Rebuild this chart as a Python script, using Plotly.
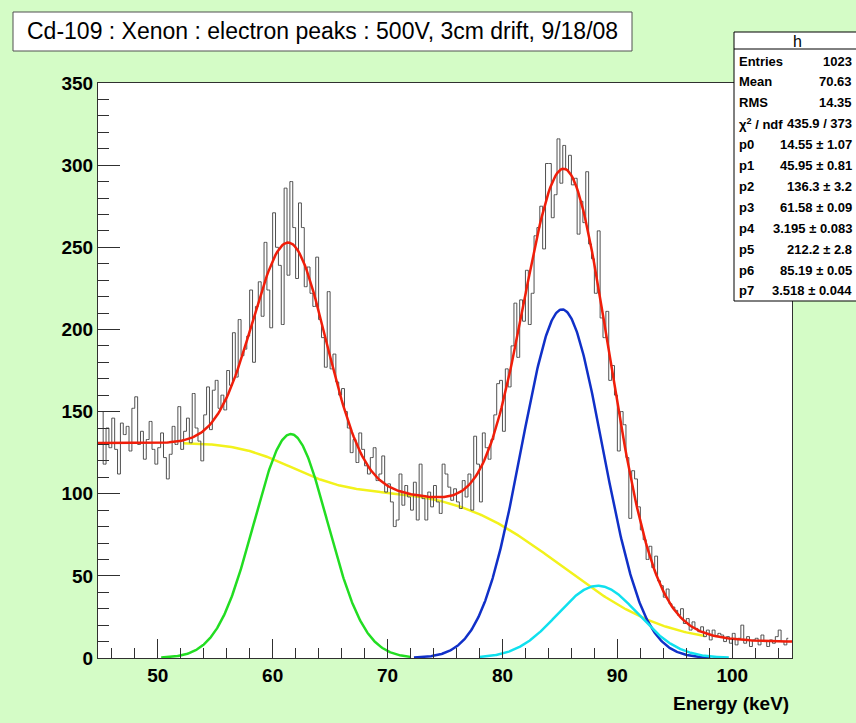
import math
import numpy as np
import plotly.graph_objects as go

# ---------------- data ----------------
bin_low_edge = 45.0
bin_width = 0.25
counts = [
    150, 118, 140, 128,   # 45
    146, 127, 112, 143,   # 46
    136, 141, 126, 152,   # 47
    159, 130, 138, 121,   # 48
    133, 144, 127, 118,   # 49
    128, 137, 122, 109,   # 50
    124, 141, 130, 153,   # 51
    127, 138, 146, 131,   # 52
    161, 140, 132, 120,   # 53
    148, 165, 139, 163,   # 54
    169, 152, 160, 151,   # 55
    175, 166, 198, 171,   # 56
    206, 184, 188, 196,   # 57
    224, 180, 214, 229,   # 58
    208, 253, 224, 201,   # 59
    271, 250, 239, 203,   # 60
    286, 233, 290, 262,   # 61
    231, 277, 262, 226,   # 62
    238, 222, 214, 244,   # 63
    206, 195, 177, 223,   # 64
    176, 185, 168, 160,   # 65
    164, 150, 140, 125,   # 66
    133, 119, 137, 127,   # 67
    117, 112, 122, 128,   # 68
    108, 112, 123, 101,   # 69
    106, 95, 80, 84,      # 70
    112, 93, 105, 98,     # 71
    90, 107, 84, 118,     # 72
    97, 84, 101, 92,      # 73
    105, 95, 88, 118,     # 74
    112, 104, 96, 103,    # 75
    95, 91, 108, 98,      # 76
    112, 90, 135, 118,    # 77
    95, 137, 128, 121,    # 78
    133, 148, 167, 169,   # 79
    138, 176, 165, 190,   # 80
    216, 183, 218, 205,   # 81
    236, 203, 222, 257,   # 82
    262, 275, 249, 301,   # 83
    301, 268, 282, 316,   # 84
    289, 312, 297, 306,   # 85
    288, 292, 258, 278,   # 86
    265, 296, 252, 243,   # 87
    222, 260, 207, 195,   # 88
    211, 169, 178, 160,   # 89
    126, 150, 142, 122,   # 90
    85, 114, 109, 92,     # 91
    78, 72, 60, 68,       # 92
    55, 62, 47, 44,       # 93
    37, 42, 33, 31,       # 94
    29, 26, 30, 21,       # 95
    24, 17, 22, 18,       # 96
    16, 19, 13, 17,       # 97
    11, 17, 13, 15,       # 98
    14, 10, 13, 9,        # 99
    15, 8, 12, 20,        # 100
    9, 13, 7, 11,         # 101
    12, 8, 14, 10,        # 102
    7, 11, 9, 13,         # 103
    17, 10, 8, 12,        # 104
]

# fit parameters shown in the stats box
par_names = ["p0", "p1", "p2", "p3", "p4", "p5", "p6", "p7"]
par_values = [14.55, 45.95, 136.3, 61.58, 3.195, 212.2, 85.19, 3.518]
par_errors = ["1.07", "0.81", "3.2", "0.09", "0.083", "2.8", "0.05", "0.044"]
par_text = ["14.55", "45.95", "136.3", "61.58", "3.195", "212.2", "85.19", "3.518"]

stat_labels = ["Entries", "Mean", "RMS", "χ<sup>2</sup> / ndf"]
stat_values = ["1023", "70.63", "14.35", "435.9 / 373"]

# extra curve constants
bkg_level = 9.8
step_width_1 = 5.2
step_width_2 = 10.0
cyan_mean = 88.3
cyan_amp = 44.0

green_range = [50.3, 72.0]
blue_range = [72.3, 98.1]
cyan_range = [78.0, 99.7]
yellow_range = [52.2, 97.6]
red_range = [44.8, 105.2]

x_range = [44.8, 105.2]
y_range = [0, 350]
title_text = "Cd-109 : Xenon : electron peaks : 500V, 3cm drift, 9/18/08"
x_title = "Energy (keV)"

# ---------------- model curves ----------------
p0, p1, p2, p3, p4, p5, p6, p7 = par_values


def gaus(x, a, m, s):
    return a * np.exp(-((x - m) ** 2) / (2 * s * s))


def background(x):
    e1 = np.array([math.erfc(v) for v in (x - p3) / step_width_1])
    e2 = np.array([math.erfc(v) for v in (x - p6) / step_width_2])
    return bkg_level + p0 * e1 + p1 * e2


def green(x):
    return gaus(x, p2, p3, p4)


def blue(x):
    return gaus(x, p5, p6, p7)


def cyan(x):
    return gaus(x, cyan_amp, cyan_mean, p7)


def total(x):
    return background(x) + green(x) + blue(x) + cyan(x)


def grid(r):
    return np.linspace(r[0], r[1], 400)


# ---------------- figure ----------------
W, H = 856, 723
L, R, T, B = 98, 792, 83, 658


def px(xp):
    return (xp - L) / (R - L)


def py(yp):
    return (B - yp) / (B - T)


FONT = "Liberation Sans, Arial, Helvetica, sans-serif"

fig = go.Figure()

curves = [
    (yellow_range, background, "#f2f21c"),
    (green_range, green, "#22dd22"),
    (blue_range, blue, "#1030c8"),
    (cyan_range, cyan, "#10e0ee"),
]
for r, f, c in curves:
    xs = grid(r)
    fig.add_trace(go.Scatter(x=xs, y=f(xs), mode="lines",
                             line=dict(color=c, width=2.5),
                             hoverinfo="skip", showlegend=False))

centers = [bin_low_edge + bin_width * (i + 0.5) for i in range(len(counts))]
fig.add_trace(go.Scatter(x=centers, y=counts, mode="lines",
                         line=dict(color="#505050", width=1, shape="hvh"),
                         showlegend=False))

xs = grid(red_range)
fig.add_trace(go.Scatter(x=xs, y=total(xs), mode="lines",
                         line=dict(color="#f01e0a", width=2.5),
                         hoverinfo="skip", showlegend=False))

axis_common = dict(showgrid=False, zeroline=False, showline=True, mirror=True,
                   linecolor="#303030", linewidth=1, ticks="inside",
                   tickcolor="#303030", tickwidth=1,
                   tickfont=dict(family=FONT, size=19, color="black", weight="bold"))

fig.update_xaxes(range=x_range, tick0=0, dtick=10, ticklen=19,
                 minor=dict(ticks="inside", dtick=2, ticklen=10, tickcolor="#303030"),
                 **axis_common)
fig.update_yaxes(range=y_range, tick0=0, dtick=50, ticklen=22,
                 minor=dict(ticks="inside", dtick=10, ticklen=11, tickcolor="#303030"),
                 **axis_common)

shapes = []
annotations = []

# title box
shapes.append(dict(type="rect", xref="paper", yref="paper",
                   x0=px(13), x1=px(632), y0=py(51), y1=py(12),
                   line=dict(color="#505050", width=1), fillcolor="white", layer="above"))
annotations.append(dict(xref="paper", yref="paper", x=px(322.5), y=py(31.5),
                        text=title_text, showarrow=False, xanchor="center", yanchor="middle",
                        font=dict(family=FONT, size=23, color="black")))

# stats box
shapes.append(dict(type="rect", xref="paper", yref="paper",
                   x0=px(734), x1=px(870), y0=py(301), y1=py(32),
                   line=dict(color="black", width=1), fillcolor="white", layer="above"))
shapes.append(dict(type="line", xref="paper", yref="paper",
                   x0=px(734), x1=px(870), y0=py(49), y1=py(49),
                   line=dict(color="black", width=1), layer="above"))
annotations.append(dict(xref="paper", yref="paper", x=px(797), y=py(41),
                        text="h", showarrow=False, xanchor="center", yanchor="middle",
                        font=dict(family=FONT, size=16, color="black")))

row_labels = stat_labels + par_names
row_values = stat_values + [f"{v} ± {e}" for v, e in zip(par_text, par_errors)]
for i, (lab, val) in enumerate(zip(row_labels, row_values)):
    yy = 61 + 20.9 * i
    annotations.append(dict(xref="paper", yref="paper", x=px(737), y=py(yy),
                            text=lab, showarrow=False, xanchor="left", yanchor="middle",
                            font=dict(family=FONT, size=13, color="black", weight="bold")))
    annotations.append(dict(xref="paper", yref="paper", x=px(854), y=py(yy),
                            text=val, showarrow=False, xanchor="right", yanchor="middle",
                            font=dict(family=FONT, size=13, color="black", weight="bold")))

# x axis title
annotations.append(dict(xref="paper", yref="paper", x=px(791), y=py(703),
                        text=x_title, showarrow=False, xanchor="right", yanchor="middle",
                        font=dict(family=FONT, size=19, color="black", weight="bold")))

fig.update_layout(width=W, height=H,
                  margin=dict(l=L, r=W - R, t=T, b=H - B, pad=0),
                  paper_bgcolor="#d4fcc6", plot_bgcolor="white",
                  shapes=shapes, annotations=annotations, showlegend=False)

fig.write_html("out.html", config={"displayModeBar": False},
               post_script="document.body.style.margin='0px';")
